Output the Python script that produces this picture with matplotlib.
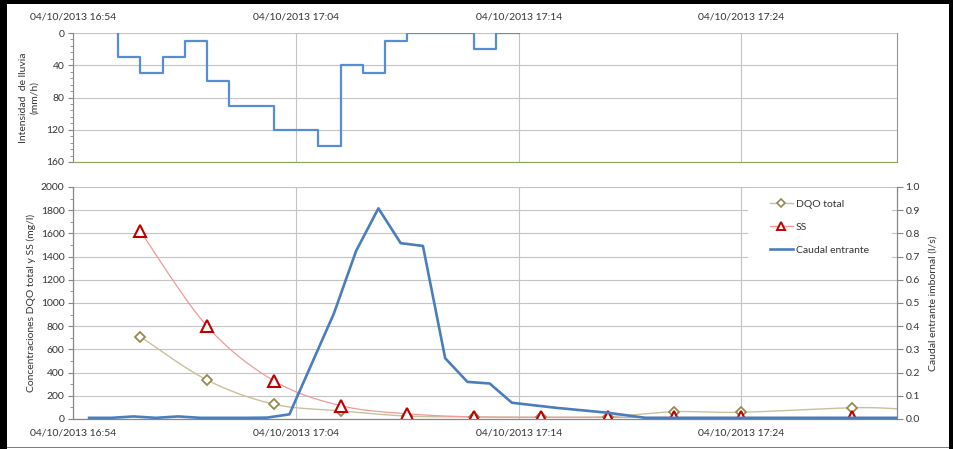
import numpy as np
import pandas as pd
import matplotlib
matplotlib.use("Agg")
import matplotlib.pyplot as plt
import matplotlib.dates as mdates
from matplotlib.patches import Rectangle
from matplotlib.ticker import MultipleLocator, FormatStrFormatter

plt.rcParams['font.family'] = ['Lato', 'DejaVu Sans']
plt.rcParams['font.size'] = 7.5

start = pd.Timestamp('2013-10-04 16:54')
end_min = 37.0
tick_min = [0, 10, 20, 30]

# Rain intensity (mm/h), one value per minute interval, minutes after 16:54
rain_edges_min = [2, 3, 4, 5, 6, 7, 8, 9, 10, 11, 12, 13, 14, 15, 16, 17, 18, 19, 20]
rain_mm_h = [30, 50, 30, 10, 60, 90, 90, 120, 120, 140, 40, 50, 10, 0, 0, 0, 20, 0]

# Inflow to the gully (l/s)
flow_min = [0.7, 1.7, 2.7, 3.7, 4.7, 5.7, 6.7, 7.7, 8.7, 9.7, 11.7, 12.7, 13.7,
            14.7, 15.7, 16.7, 17.7, 18.7, 19.7, 21.7, 24.0, 25.7, 37.0]
flow_ls = [0.005, 0.005, 0.011, 0.005, 0.011, 0.005, 0.005, 0.005, 0.006, 0.02,
           0.455, 0.725, 0.908, 0.758, 0.746, 0.262, 0.160, 0.153, 0.070, 0.048,
           0.027, 0.005, 0.005]

# Sampled concentrations (mg/l)
sample_min = [3, 6, 9, 12, 15, 18, 21, 24, 27, 30, 35, 37]
dqo_total = [710, 336, 128, 70, 25, 18, 15, 20, 63, 58, 97, 88]
ss = [1620, 800, 330, 115, 45, 18, 15, 14, 13, 13, 13, 12]


def to_time(minutes):
    return start + pd.to_timedelta(np.asarray(minutes, float), unit='min')


def smooth(x, y, n=30):
    # Bezier smoothing through every point (Excel-style smoothed line)
    x = np.asarray(x, float)
    y = np.asarray(y, float)
    pts = np.column_stack([x, y])
    pad = np.vstack([pts[0], pts, pts[-1]])
    t = np.linspace(0, 1, n)[:, None]
    out = []
    for i in range(len(pts) - 1):
        p0, p3 = pts[i], pts[i + 1]
        p1 = p0 + (pad[i + 2] - pad[i]) / 6
        p2 = p3 - (pad[i + 3] - pad[i + 1]) / 6
        seg = ((1 - t) ** 3) * p0 + 3 * ((1 - t) ** 2) * t * p1 + 3 * (1 - t) * t ** 2 * p2 + t ** 3 * p3
        out.append(seg if i == 0 else seg[1:])
    out = np.vstack(out)
    return out[:, 0], out[:, 1]


text_c = '#333333'
grid_c = '#c4c4c4'
axis_c = '#868686'
olive = '#8ea35e'
fmt = mdates.DateFormatter('%d/%m/%Y %H:%M')

fig = plt.figure(figsize=(9.54, 4.49), dpi=100)
ax_top = fig.add_axes([0.07704, 0.6392, 0.8632, 0.2873])
ax = fig.add_axes([0.07704, 0.06682, 0.8632, 0.5167])
ax2 = ax.twinx()

# --- rainfall hyetograph
edges = np.asarray(rain_edges_min, float)
vals = np.asarray(rain_mm_h, float)
step_x = np.r_[edges[0], edges]
step_y = np.r_[0, vals, vals[-1]]
ax_top.step(to_time(step_x), step_y, where='post', color='#558ed5', lw=1.6, zorder=3)
ax_top.set_ylim(160, 0)
ax_top.set_xlim(to_time([0])[0], to_time([end_min])[0])
ax_top.yaxis.set_major_locator(MultipleLocator(40))
ax_top.yaxis.set_minor_locator(MultipleLocator(8))
ax_top.xaxis.tick_top()
ax_top.set_xticks(to_time(tick_min))
ax_top.xaxis.set_major_formatter(fmt)
ax_top.tick_params(axis='x', length=0, pad=8, colors=text_c)
ax_top.tick_params(axis='y', which='major', length=3.5, pad=3, color=axis_c, labelcolor=text_c)
ax_top.tick_params(axis='y', which='minor', length=2, color=axis_c)
ax_top.grid(True, color=grid_c, lw=0.8)
ax_top.set_axisbelow(True)
ax_top.spines['top'].set_visible(False)
ax_top.spines['left'].set_color(axis_c)
ax_top.spines['bottom'].set_color(olive)
ax_top.spines['right'].set_color(olive)

# --- concentrations and inflow
xd, yd = smooth(sample_min, dqo_total)
xs, ys = smooth(sample_min, ss)
ax.plot(to_time(xd), yd, color='#c9c19b', lw=1.0, zorder=2)
ax.plot(to_time(xs), ys, color='#f09a9a', lw=0.9, zorder=2)
mk = slice(0, len(sample_min) - 1)
h_dqo, = ax.plot(to_time(sample_min)[mk], np.asarray(dqo_total)[mk], ls='none', marker='D', ms=5.5,
                 mfc='white', mec='#948a54', mew=1.3, zorder=3)
h_ss, = ax.plot(to_time(sample_min)[mk], np.asarray(ss)[mk], ls='none', marker='^', ms=8,
                mfc='white', mec='#c00000', mew=1.5, zorder=4)
h_flow, = ax2.plot(to_time(flow_min), flow_ls, color='#4a7ebb', lw=1.9, zorder=3)

ax.set_xlim(to_time([0])[0], to_time([end_min])[0])
ax.set_ylim(0, 2000)
ax.yaxis.set_major_locator(MultipleLocator(200))
ax.yaxis.set_minor_locator(MultipleLocator(100))
ax.set_xticks(to_time(tick_min))
ax.xaxis.set_major_formatter(fmt)
ax.tick_params(axis='x', length=0, pad=7, colors=text_c)
ax.tick_params(axis='y', which='major', length=3.5, pad=3, color=axis_c, labelcolor=text_c)
ax.tick_params(axis='y', which='minor', length=2, color=axis_c)
ax.grid(True, color=grid_c, lw=0.8)
ax.set_axisbelow(True)

ax2.set_ylim(0, 1.0)
ax2.yaxis.set_major_locator(MultipleLocator(0.1))
ax2.yaxis.set_major_formatter(FormatStrFormatter('%.1f'))
ax2.tick_params(axis='y', length=4, pad=2, color=axis_c, labelcolor=text_c)
for a in (ax, ax2):
    a.spines['top'].set_visible(False)
    for s in ('left', 'bottom', 'right'):
        a.spines[s].set_color(axis_c)

# white panel behind the legend
ax2.add_patch(Rectangle((0.819, 0.677), 0.175, 0.318, transform=ax2.transAxes,
                        facecolor='white', edgecolor='none', zorder=1))
h_dqo_leg = plt.Line2D([], [], color='#c9c19b', lw=1.0, marker='D', ms=4.5,
                       mfc='white', mec='#948a54', mew=1.2)
h_ss_leg = plt.Line2D([], [], color='#f09a9a', lw=1.0, marker='^', ms=6,
                      mfc='white', mec='#c00000', mew=1.4)
ax2.legend([h_dqo_leg, h_ss_leg, h_flow], ['DQO total', 'SS', 'Caudal entrante'],
           loc='upper left', bbox_to_anchor=(0.8458, 0.945), frameon=False,
           borderpad=0, borderaxespad=0, handlelength=2.2, handletextpad=0.3,
           labelspacing=1.3, labelcolor=text_c)

# axis titles
fig.text(29 / 954, 1 - 97.5 / 449, 'Intensidad  de lluvia\n(mm/h)', rotation=90,
         ha='center', va='center', multialignment='center', color=text_c)
fig.text(31 / 954, 1 - 303 / 449, 'Concentraciones DQO total y SS (mg/l)', rotation=90,
         ha='center', va='center', color=text_c)
fig.text(933 / 954, 1 - 303 / 449, 'Caudal entrante imbornal (l/s)', rotation=90,
         ha='center', va='center', color=text_c)

# dark frame around the chart
W, H = 954, 449
for x0, y0, w, h in [(0, 0, 7, H), (0, H - 4, W, 4), (W - 5, 0, 5, H)]:
    fig.add_artist(Rectangle((x0 / W, y0 / H), w / W, h / H, transform=fig.transFigure,
                             facecolor='black', edgecolor='none'))
fig.add_artist(Rectangle((7 / W, 1 / H), (W - 12) / W, 1.5 / H, transform=fig.transFigure,
                         facecolor='#7f7f7f', edgecolor='none'))

fig.savefig('out.png', dpi=100)
